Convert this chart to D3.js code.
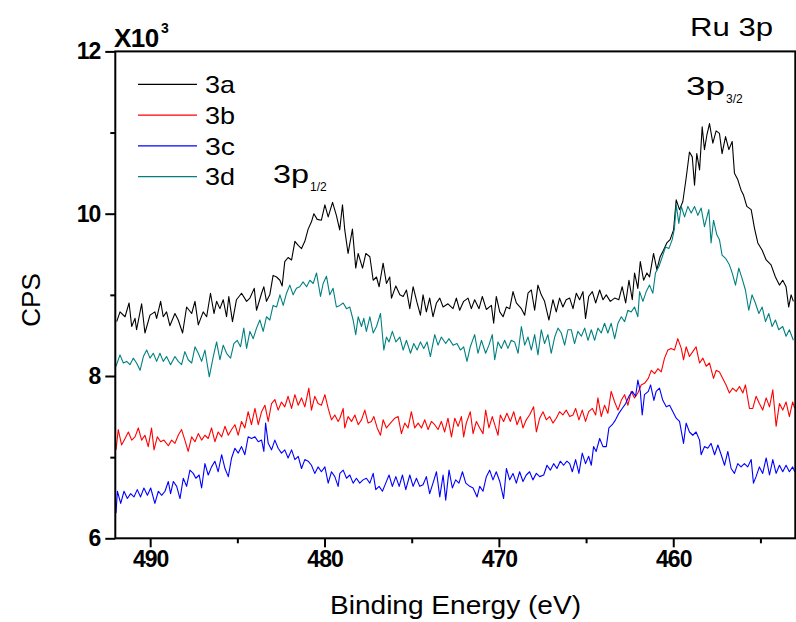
<!DOCTYPE html>
<html>
<head>
<meta charset="utf-8">
<script src="https://cdn.jsdelivr.net/npm/d3@7"></script>
<style>
body { margin: 0; background: #fff; }
svg { font-family: "Liberation Sans", Arial, sans-serif; }
</style>
</head>
<body>
<div id="chart-area"></div>
<script>

// Ru 3p XPS spectra, [binding energy (eV), CPS / 1000]
let s3a = [[491.92,8.67],[491.73,8.79],[491.44,8.73],[491.21,8.90],[491.06,8.61],[490.87,8.71],[490.78,8.57],[490.49,8.89],[490.30,8.53],[490.01,8.75],[489.73,8.79],[489.63,8.71],[489.40,8.92],[489.25,8.73],[489.06,8.79],[488.87,8.62],[488.58,8.77],[488.39,8.69],[488.14,8.53],[487.91,8.85],[487.62,8.77],[487.43,8.92],[487.24,8.63],[486.96,8.79],[486.76,8.73],[486.54,9.02],[486.34,8.77],[486.19,8.92],[486.00,8.83],[485.81,8.94],[485.62,8.73],[485.49,8.98],[485.28,8.67],[485.05,8.94],[484.76,9.02],[484.47,8.92],[484.28,8.96],[484.03,9.08],[483.90,8.81],[483.61,9.02],[483.48,9.10],[483.33,8.92],[483.14,9.00],[482.95,9.24],[482.75,9.22],[482.56,9.18],[482.43,9.11],[482.28,9.41],[482.09,9.46],[481.89,9.43],[481.70,9.66],[481.51,9.61],[481.32,9.57],[481.13,9.66],[480.94,9.81],[480.75,9.90],[480.61,10.00],[480.42,9.93],[480.18,9.92],[479.98,10.11],[479.79,9.96],[479.54,10.14],[479.32,9.98],[479.13,9.80],
  [478.97,10.11],[478.84,9.80],[478.65,9.51],[478.40,9.81],[478.21,9.33],[478.07,9.51],[477.82,9.33],[477.63,9.51],[477.40,9.47],[477.21,9.18],[477.02,9.22],[476.87,9.10],[476.64,9.39],[476.45,9.14],[476.26,9.22],[476.16,8.96],[475.91,9.11],[475.68,9.00],[475.49,8.98],[475.30,9.06],[475.11,8.83],[474.92,9.10],[474.69,8.90],[474.50,8.75],[474.35,9.00],[474.16,8.79],[473.97,8.96],[473.78,8.73],[473.58,8.90],[473.39,8.96],[473.20,8.85],[472.92,8.89],[472.63,8.83],[472.44,8.96],[472.25,8.81],[472.02,8.92],[471.77,8.96],[471.58,8.83],[471.39,8.94],[471.14,8.83],[470.95,8.98],[470.72,8.82],[470.43,8.87],[470.30,8.65],[470.15,8.98],[469.95,8.79],[469.76,8.73],[469.57,8.85],[469.38,8.83],[469.19,9.04],[469.00,8.90],[468.71,8.83],[468.52,8.75],[468.33,9.02],[468.14,9.06],[467.95,8.81],[467.76,9.12],[467.57,9.00],[467.38,8.92],[467.13,8.69],[466.90,8.94],[466.71,8.79],[466.52,8.96],[466.33,8.85],[466.14,8.94],
  [465.94,8.96],[465.75,8.83],[465.56,9.02],[465.37,8.94],[465.18,9.04],[465.03,8.71],[464.85,8.98],[464.64,9.04],[464.45,8.90],[464.22,9.06],[464.03,8.94],[463.84,9.00],[463.61,8.92],[463.36,8.96],[463.12,8.94],[462.93,9.10],[462.73,8.90],[462.54,9.18],[462.35,8.94],[462.22,9.27],[462.03,9.08],[461.89,9.41],[461.70,9.18],[461.51,9.27],[461.36,9.22],[461.13,9.51],[460.94,9.31],[460.75,9.47],[460.56,9.55],[460.37,9.64],[460.18,9.68],[459.98,9.80],[459.83,10.17],[459.64,10.05],[459.45,10.15],[459.26,10.44],[459.07,10.76],[458.91,10.70],[458.78,10.35],[458.65,10.74],[458.49,10.54],[458.34,11.07],[458.21,10.79],[458.07,10.97],[457.92,11.11],[457.73,10.87],[457.54,11.02],[457.35,10.99],[457.20,10.74],[457.00,10.95],[456.81,10.79],[456.62,10.89],[456.49,10.50],[456.30,10.42],[456.11,10.29],[455.97,10.23],[455.78,10.09],[455.53,10.05],[455.34,9.82],[455.15,9.64],[454.90,9.55],[454.67,9.43],[454.39,9.37],[454.14,9.22],[453.91,9.12],[453.72,9.18],[453.53,9.10],[453.38,8.85],[453.24,9.00],[453.11,8.92]];

let s3b = [[491.96,7.09],[491.83,7.34],[491.64,7.15],[491.44,7.23],[491.25,7.31],[491.06,7.21],[490.87,7.25],[490.68,7.36],[490.49,7.21],[490.30,7.27],[490.11,7.13],[489.92,7.36],[489.78,7.09],[489.59,7.25],[489.40,7.19],[489.21,7.21],[488.96,7.14],[488.77,7.21],[488.58,7.17],[488.39,7.27],[488.20,7.34],[488.01,7.21],[487.82,7.07],[487.62,7.25],[487.43,7.19],[487.24,7.29],[487.05,7.21],[486.86,7.27],[486.67,7.23],[486.48,7.36],[486.29,7.19],[486.10,7.31],[485.90,7.25],[485.71,7.38],[485.52,7.27],[485.33,7.34],[485.14,7.40],[484.95,7.27],[484.76,7.44],[484.57,7.36],[484.38,7.56],[484.19,7.40],[483.99,7.60],[483.80,7.40],[483.61,7.56],[483.42,7.64],[483.23,7.44],[483.04,7.66],[482.85,7.71],[482.66,7.58],[482.47,7.68],[482.28,7.62],[482.09,7.75],[481.89,7.60],[481.70,7.77],[481.51,7.64],[481.32,7.73],[481.13,7.62],[480.90,7.85],[480.75,7.58],[480.56,7.75],[480.37,7.66],[480.18,7.64],[479.98,7.77],[479.79,7.60],[479.60,7.46],[479.41,7.52],[479.22,7.44],
  [479.12,7.48],[478.93,7.60],[478.84,7.36],[478.65,7.50],[478.45,7.44],[478.26,7.52],[478.07,7.40],[477.88,7.46],[477.69,7.58],[477.50,7.42],[477.31,7.44],[477.17,7.50],[476.98,7.36],[476.79,7.27],[476.64,7.46],[476.45,7.36],[476.22,7.42],[475.97,7.48],[475.78,7.50],[475.59,7.29],[475.40,7.42],[475.21,7.36],[475.02,7.56],[474.83,7.36],[474.63,7.42],[474.44,7.36],[474.25,7.46],[474.06,7.34],[473.87,7.44],[473.68,7.40],[473.49,7.34],[473.30,7.44],[473.11,7.31],[472.92,7.48],[472.72,7.25],[472.53,7.48],[472.34,7.38],[472.15,7.50],[472.02,7.25],[471.87,7.42],[471.64,7.56],[471.48,7.29],[471.29,7.44],[471.10,7.36],[470.91,7.29],[470.76,7.58],[470.57,7.36],[470.38,7.50],[470.18,7.36],[470.05,7.27],[469.92,7.52],[469.73,7.44],[469.54,7.54],[469.34,7.44],[469.15,7.56],[468.96,7.40],[468.77,7.50],[468.62,7.36],[468.43,7.46],[468.24,7.52],[468.01,7.62],[467.85,7.31],[467.66,7.48],[467.47,7.56],[467.28,7.46],[467.09,7.50],[466.90,7.42],[466.71,7.48],[466.52,7.56],[466.33,7.52],[466.14,7.58],
  [465.94,7.50],[465.75,7.52],[465.60,7.60],[465.41,7.46],[465.22,7.58],[465.03,7.44],[464.85,7.56],[464.64,7.60],[464.45,7.52],[464.32,7.73],[464.13,7.50],[463.94,7.64],[463.75,7.54],[463.56,7.81],[463.36,7.68],[463.17,7.58],[462.98,7.70],[462.79,7.77],[462.60,7.64],[462.41,7.81],[462.22,7.73],[462.03,7.79],[461.84,7.89],[461.65,7.91],[461.43,7.97],[461.26,8.07],[461.07,8.03],[460.88,8.09],[460.69,8.05],[460.50,8.22],[460.31,8.32],[460.12,8.34],[459.93,8.32],[459.74,8.46],[459.54,8.34],[459.41,8.20],[459.26,8.36],[459.07,8.24],[458.88,8.30],[458.69,8.36],[458.49,8.16],[458.30,8.22],[458.11,8.12],[457.92,8.16],[457.69,7.97],[457.54,8.07],[457.35,8.05],[457.16,7.97],[456.97,7.89],[456.78,7.79],[456.59,7.85],[456.39,7.81],[456.20,7.87],[456.01,7.79],[455.86,7.89],[455.63,7.60],[455.44,7.60],[455.25,7.75],[455.06,7.66],[454.87,7.58],[454.67,7.73],[454.48,7.62],[454.29,7.83],[454.10,7.38],[453.91,7.66],[453.72,7.58],[453.53,7.68],[453.34,7.50],[453.15,7.68],[453.03,7.60]];

let s3c = [[491.96,6.31],[491.88,6.58],[491.69,6.43],[491.50,6.58],[491.31,6.49],[491.12,6.55],[490.93,6.51],[490.74,6.60],[490.55,6.51],[490.36,6.62],[490.16,6.53],[489.97,6.62],[489.73,6.43],[489.53,6.58],[489.34,6.53],[489.15,6.58],[488.96,6.70],[488.83,6.55],[488.67,6.70],[488.48,6.64],[488.29,6.49],[488.10,6.74],[487.91,6.64],[487.72,6.84],[487.53,6.80],[487.38,6.74],[487.19,6.78],[487.05,6.62],[486.86,6.92],[486.67,6.78],[486.48,6.88],[486.29,6.95],[486.10,6.82],[485.90,7.03],[485.71,6.86],[485.52,6.76],[485.33,6.99],[485.14,7.11],[484.95,7.05],[484.76,7.13],[484.57,7.03],[484.38,7.25],[484.19,7.23],[483.99,7.25],[483.80,7.19],[483.61,7.21],[483.48,7.07],[483.38,7.42],[483.23,7.17],[483.04,7.09],[482.85,7.21],[482.66,7.11],[482.47,7.05],[482.28,7.09],[482.09,6.99],[481.89,7.09],[481.70,6.97],[481.51,7.01],[481.32,6.86],[481.13,6.97],[480.94,6.95],[480.75,6.90],[480.56,6.80],[480.37,6.88],[480.18,6.82],[479.98,6.88],[479.79,6.68],[479.60,6.82],[479.41,6.76],[479.22,6.64],
  [479.12,6.80],[478.93,6.84],[478.74,6.74],[478.55,6.78],[478.36,6.68],[478.17,6.74],[477.98,6.68],[477.79,6.72],[477.60,6.74],[477.40,6.68],[477.21,6.80],[477.06,6.60],[476.87,6.64],[476.68,6.58],[476.49,6.68],[476.30,6.78],[476.11,6.64],[475.91,6.76],[475.72,6.64],[475.53,6.78],[475.34,6.60],[475.11,6.78],[474.92,6.64],[474.73,6.74],[474.54,6.64],[474.35,6.66],[474.16,6.76],[473.97,6.55],[473.78,6.68],[473.58,6.82],[473.39,6.51],[473.20,6.78],[473.05,6.47],[472.86,6.84],[472.67,6.62],[472.48,6.72],[472.29,6.68],[472.09,6.82],[471.90,6.68],[471.67,6.64],[471.48,6.62],[471.25,6.51],[471.10,6.64],[470.91,6.58],[470.72,6.76],[470.53,6.84],[470.34,6.72],[470.15,6.82],[469.95,6.70],[469.73,6.49],[469.57,6.86],[469.38,6.72],[469.19,6.80],[469.00,6.68],[468.81,6.82],[468.62,6.70],[468.43,6.78],[468.24,6.82],[468.05,6.72],[467.85,6.80],[467.66,6.76],[467.43,6.78],[467.24,6.90],[467.05,6.84],[466.86,6.92],[466.67,6.86],[466.48,6.95],[466.29,6.90],[466.10,6.95],
  [465.94,6.92],[465.79,6.82],[465.60,6.97],[465.41,6.80],[465.22,7.05],[465.03,6.92],[464.85,7.01],[464.70,6.90],[464.57,7.13],[464.42,7.07],[464.22,7.23],[464.03,7.13],[463.84,7.13],[463.69,7.36],[463.50,7.40],[463.31,7.46],[463.12,7.54],[462.93,7.60],[462.73,7.66],[462.54,7.75],[462.35,7.81],[462.16,7.75],[462.03,7.95],[461.89,7.81],[461.78,7.52],[461.65,7.77],[461.43,7.81],[461.30,7.89],[461.11,7.70],[460.98,7.81],[460.79,7.85],[460.60,7.70],[460.40,7.62],[460.21,7.64],[460.02,7.56],[459.83,7.48],[459.64,7.44],[459.41,7.17],[459.26,7.42],[459.07,7.31],[458.88,7.27],[458.69,7.31],[458.49,7.21],[458.40,7.03],[458.21,7.13],[458.02,7.11],[457.83,7.17],[457.63,7.03],[457.44,7.15],[457.25,7.03],[457.06,6.90],[456.87,7.07],[456.68,6.86],[456.49,6.80],[456.30,6.92],[456.11,6.88],[455.92,6.92],[455.73,6.88],[455.53,6.97],[455.40,6.68],[455.25,6.76],[455.06,6.88],[454.87,6.80],[454.67,6.99],[454.48,6.78],[454.29,6.97],[454.10,6.80],[453.91,6.90],[453.72,6.82],[453.53,6.90],[453.34,6.82],[453.15,6.88],[453.03,6.82]];

let s3d = [[491.96,8.12],[491.73,8.26],[491.54,8.16],[491.35,8.18],[491.16,8.14],[490.97,8.22],[490.78,8.16],[490.58,8.07],[490.39,8.24],[490.20,8.32],[490.01,8.22],[489.82,8.28],[489.63,8.18],[489.44,8.28],[489.25,8.18],[489.06,8.24],[488.83,8.14],[488.58,8.24],[488.39,8.18],[488.20,8.14],[488.01,8.30],[487.82,8.20],[487.62,8.16],[487.43,8.36],[487.24,8.28],[487.05,8.18],[486.86,8.32],[486.61,7.99],[486.38,8.24],[486.19,8.42],[486.00,8.20],[485.81,8.38],[485.62,8.28],[485.39,8.22],[485.20,8.40],[485.01,8.44],[484.82,8.36],[484.63,8.59],[484.47,8.34],[484.28,8.55],[484.09,8.46],[483.90,8.59],[483.71,8.69],[483.52,8.55],[483.33,8.73],[483.14,8.69],[482.95,8.87],[482.75,8.85],[482.56,9.00],[482.37,8.87],[482.18,9.02],[481.99,9.12],[481.80,9.00],[481.61,9.08],[481.42,9.10],[481.23,9.16],[481.03,9.10],[480.84,9.18],[480.65,9.14],[480.46,9.27],[480.23,8.98],[480.08,9.14],[479.89,9.23],[479.70,9.00],[479.51,9.08],[479.32,8.85],
  [479.12,8.87],[478.93,8.90],[478.74,8.83],[478.55,8.85],[478.36,8.69],[478.21,8.51],[478.07,8.73],[477.88,8.61],[477.75,8.71],[477.60,8.55],[477.40,8.73],[477.21,8.53],[477.02,8.61],[476.79,8.77],[476.60,8.32],[476.45,8.48],[476.30,8.42],[476.11,8.55],[475.91,8.42],[475.68,8.48],[475.49,8.32],[475.30,8.44],[475.07,8.28],[474.88,8.40],[474.69,8.32],[474.50,8.42],[474.31,8.34],[474.12,8.42],[473.93,8.24],[473.68,8.51],[473.49,8.38],[473.30,8.48],[473.05,8.40],[472.86,8.46],[472.63,8.38],[472.40,8.40],[472.21,8.32],[472.02,8.36],[471.83,8.18],[471.64,8.36],[471.39,8.51],[471.20,8.28],[471.00,8.44],[470.76,8.28],[470.57,8.38],[470.38,8.51],[470.24,8.20],[470.05,8.42],[469.86,8.34],[469.67,8.44],[469.48,8.34],[469.29,8.44],[469.10,8.42],[468.90,8.28],[468.71,8.61],[468.52,8.38],[468.33,8.48],[468.14,8.32],[467.95,8.51],[467.76,8.26],[467.57,8.57],[467.38,8.40],[467.19,8.51],[467.00,8.28],[466.80,8.48],[466.61,8.59],[466.42,8.53],[466.23,8.38],[466.04,8.57],
  [465.85,8.57],[465.66,8.40],[465.47,8.55],[465.27,8.49],[465.08,8.59],[464.89,8.44],[464.70,8.57],[464.51,8.44],[464.32,8.59],[464.13,8.53],[463.94,8.65],[463.75,8.53],[463.56,8.65],[463.36,8.46],[463.17,8.65],[462.98,8.73],[462.79,8.67],[462.60,8.81],[462.41,8.79],[462.22,8.85],[462.03,8.73],[461.93,9.04],[461.74,8.92],[461.55,9.04],[461.36,9.12],[461.17,9.02],[461.02,9.27],[460.82,9.35],[460.63,9.47],[460.44,9.59],[460.25,9.57],[460.06,9.68],[459.93,9.82],[459.83,10.11],[459.68,9.88],[459.54,10.09],[459.35,9.96],[459.16,10.09],[458.97,10.01],[458.78,10.09],[458.59,9.98],[458.40,10.07],[458.21,9.84],[457.96,10.05],[457.83,9.64],[457.69,9.92],[457.50,9.74],[457.35,9.68],[457.20,9.49],[457.00,9.45],[456.78,9.37],[456.62,9.27],[456.43,9.12],[456.24,9.33],[456.05,9.20],[455.86,9.06],[455.67,8.81],[455.48,9.00],[455.29,8.90],[455.09,8.77],[454.90,8.85],[454.71,8.67],[454.52,8.77],[454.33,8.61],[454.14,8.69],[453.95,8.57],[453.72,8.61],[453.53,8.49],[453.34,8.57],[453.11,8.44]];

let seriesNames = ["3a", "3b", "3c", "3d"];
let seriesColors = ["#000000", "#ff0000", "#0000ff", "#008080"];

let xMajor = [490, 480, 470, 460];
let xMinor = [485, 475, 465, 455];
let yMajor = [6, 8, 10, 12];
let yMinor = [7, 9, 11];

let W = 796, H = 622;
let plot = {left: 115.3, right: 795.3, top: 51.4, bottom: 538.3};

let svg = d3.select("#chart-area").append("svg")
    .attr("width", W)
    .attr("height", H);

let x = d3.scaleLinear()
    .domain([492, 453])
    .range([plot.left, plot.right]);

let y = d3.scaleLinear()
    .domain([6, 12])
    .range([plot.bottom, plot.top]);

svg.append("clipPath").attr("id", "clip")
    .append("rect")
    .attr("x", plot.left)
    .attr("y", plot.top)
    .attr("width", plot.right - plot.left)
    .attr("height", plot.bottom - plot.top);

let line = d3.line()
    .x(d => x(d[0]))
    .y(d => y(d[1]));

let allSeries = [s3a, s3b, s3c, s3d];

svg.append("g")
    .attr("clip-path", "url(#clip)")
    .selectAll("path")
    .data(allSeries)
    .enter().append("path")
    .attr("d", d => line(d))
    .attr("fill", "none")
    .attr("stroke", (d, i) => seriesColors[i])
    .attr("stroke-width", 1.1)
    .attr("stroke-linejoin", "round");

// axes
let xAxis = d3.axisBottom(x).tickValues(xMajor).tickSize(9).tickSizeOuter(0).tickPadding(3).tickFormat(d3.format("d"));
let xAxisMinor = d3.axisBottom(x).tickValues(xMinor).tickSize(5).tickSizeOuter(0).tickFormat("");
let yAxis = d3.axisLeft(y).tickValues(yMajor).tickSize(10).tickSizeOuter(0).tickPadding(5).tickFormat(d3.format("d"));
let yAxisMinor = d3.axisLeft(y).tickValues(yMinor).tickSize(5).tickSizeOuter(0).tickFormat("");

function styleAxis(g) {
    g.select(".domain").remove();
    g.selectAll("line").attr("stroke", "#000").attr("stroke-width", 2);
    g.selectAll("text")
        .attr("fill", "#000")
        .style("font-size", "23px")
        .style("font-weight", "bold")
        .style("letter-spacing", "-1px");
}

svg.append("g").attr("transform", "translate(0," + plot.bottom + ")").call(xAxis).call(styleAxis);
svg.append("g").attr("transform", "translate(0," + plot.bottom + ")").call(xAxisMinor).call(styleAxis);
svg.append("g").attr("transform", "translate(" + plot.left + ",0)").call(yAxis).call(styleAxis);
svg.append("g").attr("transform", "translate(" + plot.left + ",0)").call(yAxisMinor).call(styleAxis);

// frame
svg.append("rect")
    .attr("x", plot.left)
    .attr("y", plot.top)
    .attr("width", plot.right - plot.left)
    .attr("height", plot.bottom - plot.top)
    .attr("fill", "none")
    .attr("stroke", "#000")
    .attr("stroke-width", 2);

// multiplier
svg.append("text")
    .attr("x", 114)
    .attr("y", 47)
    .style("font-size", "26px")
    .style("font-weight", "bold")
    .style("letter-spacing", "-0.5px")
    .text("X10");
svg.append("text")
    .attr("x", 161)
    .attr("y", 33)
    .style("font-size", "14px")
    .style("font-weight", "bold")
    .text("3");

// titles
svg.append("text")
    .attr("x", 690)
    .attr("y", 36)
    .attr("textLength", 83)
    .attr("lengthAdjust", "spacingAndGlyphs")
    .style("font-size", "26px")
    .text("Ru 3p");

svg.append("text")
    .attr("x", 330)
    .attr("y", 614)
    .attr("textLength", 251)
    .attr("lengthAdjust", "spacingAndGlyphs")
    .style("font-size", "26px")
    .text("Binding Energy (eV)");

svg.append("text")
    .attr("transform", "translate(40,300) rotate(-90)")
    .attr("text-anchor", "middle")
    .style("font-size", "26px")
    .text("CPS");

// peak labels
let peaks = [
    {main: "3p", sub: "1/2", x: 273, y: 183, w: 36},
    {main: "3p", sub: "3/2", x: 686, y: 95, w: 39}
];
peaks.forEach(function(p) {
    svg.append("text")
        .attr("x", p.x)
        .attr("y", p.y)
        .attr("textLength", p.w)
        .attr("lengthAdjust", "spacingAndGlyphs")
        .style("font-size", "26px")
        .text(p.main);
    svg.append("text")
        .attr("x", p.x + p.w + 1)
        .attr("y", p.y + 8)
        .style("font-size", "12px")
        .text(p.sub);
});

// legend
let legend = svg.selectAll("g.legend")
    .data(seriesNames)
    .enter().append("g")
    .attr("class", "legend");

legend.append("line")
    .attr("x1", 138)
    .attr("x2", 197)
    .attr("y1", (d, i) => 84.3 + i * 30.8)
    .attr("y2", (d, i) => 84.3 + i * 30.8)
    .attr("stroke", (d, i) => seriesColors[i])
    .attr("stroke-width", 1.2);

legend.append("text")
    .attr("x", 205)
    .attr("y", (d, i) => 84.3 + i * 30.8 + 8.7)
    .attr("textLength", 30)
    .attr("lengthAdjust", "spacingAndGlyphs")
    .style("font-size", "24px")
    .text(d => d);

</script>
</body>
</html>
